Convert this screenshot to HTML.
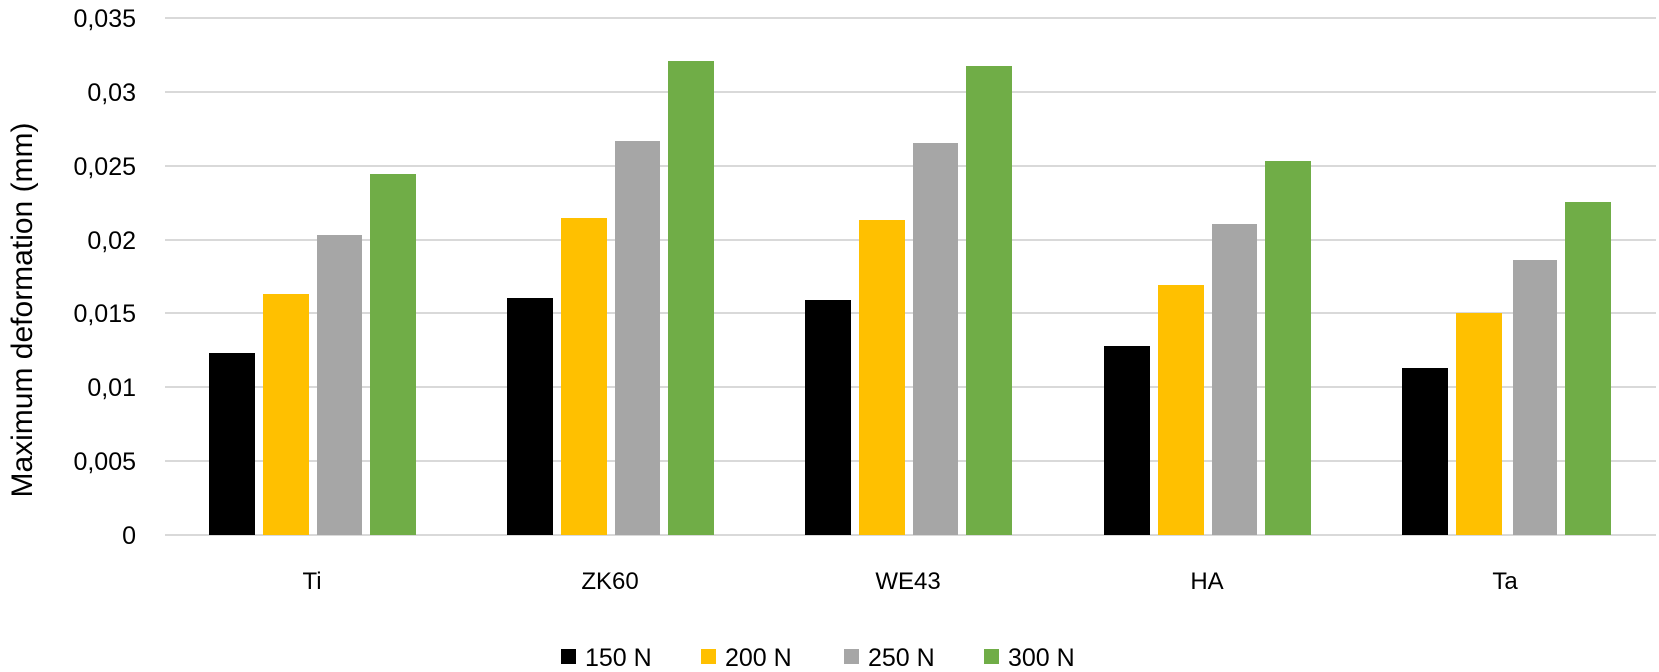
<!DOCTYPE html>
<html><head><meta charset="utf-8"><style>
html,body{margin:0;padding:0;background:#fff;}
svg{display:block;font-family:"Liberation Sans",sans-serif;}
</style></head><body>
<svg width="1659" height="672" viewBox="0 0 1659 672">
<g stroke="#d9d9d9" stroke-width="2">
<line x1="165" x2="1656" y1="18" y2="18"/>
<line x1="165" x2="1656" y1="92" y2="92"/>
<line x1="165" x2="1656" y1="166" y2="166"/>
<line x1="165" x2="1656" y1="240" y2="240"/>
<line x1="165" x2="1656" y1="313" y2="313"/>
<line x1="165" x2="1656" y1="387" y2="387"/>
<line x1="165" x2="1656" y1="461" y2="461"/>
<line x1="165" x2="1656" y1="535" y2="535"/>
</g>
<g font-size="25" fill="#000" text-anchor="end">
<text x="136" y="27">0,035</text>
<text x="136" y="101">0,03</text>
<text x="136" y="175">0,025</text>
<text x="136" y="249">0,02</text>
<text x="136" y="322">0,015</text>
<text x="136" y="396">0,01</text>
<text x="136" y="470">0,005</text>
<text x="136" y="544">0</text>
</g>
<text transform="translate(32,310) rotate(-90)" font-size="30" text-anchor="middle">Maximum  deformation (mm)</text>
<g id="bars">
<rect x="209" y="353" width="46" height="182" fill="#000"/>
<rect x="263" y="294" width="46" height="241" fill="#ffc000"/>
<rect x="317" y="235" width="45" height="300" fill="#a6a6a6"/>
<rect x="370" y="174" width="46" height="361" fill="#70ad47"/>
<rect x="507" y="298" width="46" height="237" fill="#000"/>
<rect x="561" y="218" width="46" height="317" fill="#ffc000"/>
<rect x="615" y="141" width="45" height="394" fill="#a6a6a6"/>
<rect x="668" y="61" width="46" height="474" fill="#70ad47"/>
<rect x="805" y="300" width="46" height="235" fill="#000"/>
<rect x="859" y="220" width="46" height="315" fill="#ffc000"/>
<rect x="913" y="143" width="45" height="392" fill="#a6a6a6"/>
<rect x="966" y="66" width="46" height="469" fill="#70ad47"/>
<rect x="1104" y="346" width="46" height="189" fill="#000"/>
<rect x="1158" y="285" width="46" height="250" fill="#ffc000"/>
<rect x="1212" y="224" width="45" height="311" fill="#a6a6a6"/>
<rect x="1265" y="161" width="46" height="374" fill="#70ad47"/>
<rect x="1402" y="368" width="46" height="167" fill="#000"/>
<rect x="1456" y="313" width="46" height="222" fill="#ffc000"/>
<rect x="1513" y="260" width="44" height="275" fill="#a6a6a6"/>
<rect x="1565" y="202" width="46" height="333" fill="#70ad47"/>
</g>
<g font-size="24" text-anchor="middle">
<text x="312" y="589">Ti</text>
<text x="610" y="589">ZK60</text>
<text x="908" y="589">WE43</text>
<text x="1207" y="589">HA</text>
<text x="1505" y="589">Ta</text>
</g>
<g font-size="25">
<rect x="561" y="649" width="15" height="15" fill="#000"/>
<text x="585" y="666">150 N</text>
<rect x="701" y="649" width="15" height="15" fill="#ffc000"/>
<text x="725" y="666">200 N</text>
<rect x="844" y="649" width="15" height="15" fill="#a6a6a6"/>
<text x="868" y="666">250 N</text>
<rect x="984" y="649" width="15" height="15" fill="#70ad47"/>
<text x="1008" y="666">300 N</text>
</g>
</svg>
</body></html>
